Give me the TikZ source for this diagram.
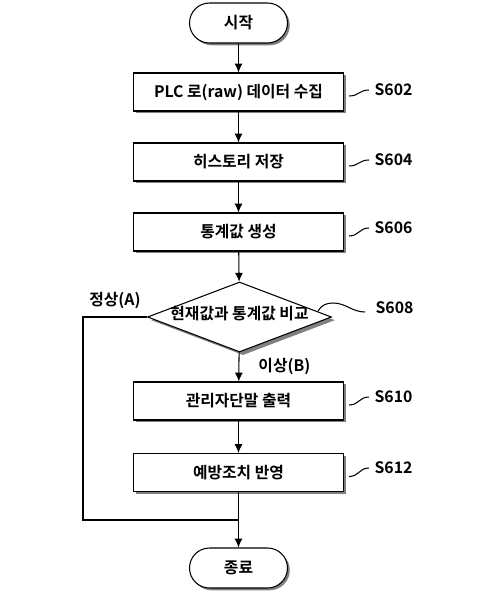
\documentclass[tikz,border=0pt]{standalone}
\usepackage{fontspec}
\setmainfont{Noto Sans CJK KR}[BoldFont={Noto Sans CJK KR Bold}]
\usetikzlibrary{positioning,shapes.geometric,shadows,arrows.meta}

\tikzset{
  stepbox/.style={draw, fill=white, line width=0.6pt, minimum width=4.2cm, minimum height=0.76cm,
    drop shadow={opacity=1, shadow xshift=1.3pt, shadow yshift=-1.3pt}},
  term/.style={stepbox, rounded corners=0.4cm, minimum width=1.96cm, minimum height=0.8cm},
  decision/.style={draw, fill=white, diamond, line width=0.6pt, inner sep=0pt,
    minimum width=3.68cm, minimum height=1.4cm,
    drop shadow={opacity=1, shadow xshift=2pt, shadow yshift=-1.8pt}},
  steptag/.style={anchor=west, inner sep=3pt},
  flow/.style={line width=0.6pt},
}

\begin{document}
\begin{tikzpicture}[font=\bfseries\fontsize{9}{11}\selectfont, >={Latex[length=5pt,width=4.5pt]}]
  \useasboundingbox (0,0) rectangle (9.96,-11.98);

  % steps
  \node[term] (start) at (4.77,-0.46) {시작};
  \node[stepbox] (s602) at (4.77,-1.84) {PLC 로(raw) 데이터 수집};
  \node[stepbox] (s604) at (4.77,-3.24) {히스토리 저장};
  \node[stepbox] (s606) at (4.77,-4.64) {통계값 생성};
  \node[decision] (cmp) at (4.79,-6.34) {};
  \node (cmptext) at ([yshift=2pt]cmp.center) {현재값과 통계값 비교};
  \node[stepbox] (s610) at (4.77,-8.02) {관리자단말 출력};
  \node[stepbox] (s612) at (4.77,-9.45) {예방조치 반영};
  \node[term] (stop) at (4.77,-11.36) {종료};
  \coordinate (merge) at (4.77,-10.4);

  % step numbers
  \node[steptag] (l602) at (7.38,-1.8) {S602};
  \node[steptag] (l604) at (7.38,-3.2) {S604};
  \node[steptag] (l606) at (7.38,-4.56) {S606};
  \node[steptag] (l608) at (7.4,-6.16) {S608};
  \node[steptag] (l610) at (7.38,-7.94) {S610};
  \node[steptag] (l612) at (7.38,-9.36) {S612};
  \foreach \s in {602,604,606,610,612}
    \draw[flow] ([xshift=0.1cm,yshift=-0.08cm]s\s.east) .. controls +(0.2,0) and +(-0.2,0) .. (l\s.west);
  \draw[flow] ([xshift=-0.28cm,yshift=0.12cm]cmp.east) to[out=60,in=180] ++(0.3,0.16)
    to[out=0,in=180] ([xshift=-0.1cm,yshift=-0.08cm]l608.west);

  % flow
  \draw[flow,->] (start) -- (s602);
  \draw[flow,->] (s602) -- (s604);
  \draw[flow,->] (s604) -- (s606);
  \draw[flow,->] (s606) -- (cmp);
  \draw[flow,->] (cmp) -- node[right=7.5pt] (lblB) {이상(B)} (s610);
  \draw[flow,->] (s610) -- (s612);
  \draw[flow] (s612) -- (merge);
  \draw[flow,->] (merge) -- (stop);
  \draw[flow] (cmp.west) -- node[above=1pt] (lblA) {정상(A)} ++(-1.28,0) |- (merge);
\end{tikzpicture}
\end{document}
